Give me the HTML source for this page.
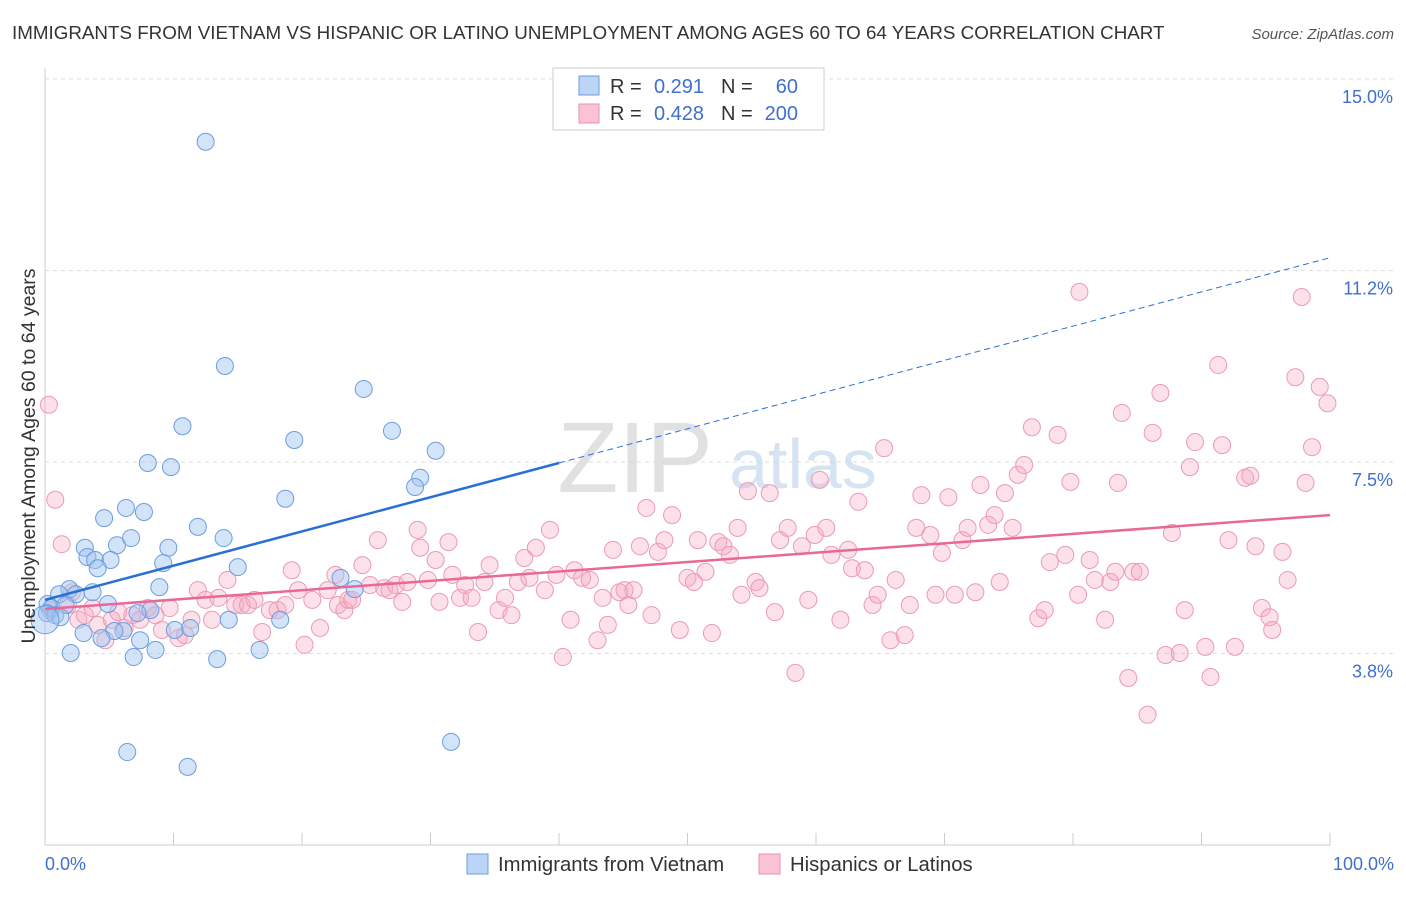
<!DOCTYPE html>
<html><head><meta charset="utf-8"><style>
body{margin:0;background:#fff;font-family:"Liberation Sans",sans-serif}
svg text{font-family:"Liberation Sans",sans-serif}
</style></head><body>
<svg id="chart" width="1406" height="892" xmlns="http://www.w3.org/2000/svg">
<text x="12" y="39" font-size="18.8" fill="#333">IMMIGRANTS FROM VIETNAM VS HISPANIC OR LATINO UNEMPLOYMENT AMONG AGES 60 TO 64 YEARS CORRELATION CHART</text>
<text x="1394" y="39" font-size="15" fill="#555" font-style="italic" text-anchor="end">Source: ZipAtlas.com</text>
<g id="grid"></g>
<g><text x="635" y="492" font-size="100" fill="#d8d8d8" font-family="Liberation Serif" text-anchor="middle" opacity="0.75">ZIP</text><text x="803" y="488" font-size="70" fill="#c9daf0" text-anchor="middle" opacity="0.75">atlas</text></g>
<line x1="45" y1="68" x2="45" y2="845" stroke="#ccc"/>
<line x1="45" y1="845" x2="1330" y2="845" stroke="#ccc"/>
<g id="ticks"></g>
<g id="pink"></g>
<g id="blue"></g>
<g id="trends"></g>
<text transform="translate(35,456) rotate(-90)" font-size="19.5" fill="#333" text-anchor="middle">Unemployment Among Ages 60 to 64 years</text>
<text x="45" y="870" font-size="18" fill="#3f6fd0">0.0%</text>
<text x="1394" y="870" font-size="18" fill="#3f6fd0" text-anchor="end">100.0%</text>
<g>
<rect x="553" y="68" width="271" height="62" fill="#fff" stroke="#ccc"/>
<rect x="579" y="76" width="20" height="19" fill="#bcd4f5" stroke="#6a9de0"/>
<rect x="579" y="104" width="20" height="19" fill="#fac3d4" stroke="#e891ad"/>
<text x="610" y="93" font-size="20" fill="#333">R =</text>
<text x="704" y="93" font-size="20" fill="#3f6fd0" text-anchor="end">0.291</text>
<text x="721" y="93" font-size="20" fill="#333">N =</text>
<text x="798" y="93" font-size="20" fill="#3f6fd0" text-anchor="end">60</text>
<text x="610" y="120" font-size="20" fill="#333">R =</text>
<text x="704" y="120" font-size="20" fill="#3f6fd0" text-anchor="end">0.428</text>
<text x="721" y="120" font-size="20" fill="#333">N =</text>
<text x="798" y="120" font-size="20" fill="#3f6fd0" text-anchor="end">200</text>
</g>
<g>
<rect x="467" y="854" width="21" height="20" fill="#bcd4f5" stroke="#6a9de0"/>
<text x="498" y="871" font-size="20.3" fill="#333">Immigrants from Vietnam</text>
<rect x="759" y="854" width="21" height="20" fill="#fac3d4" stroke="#e891ad"/>
<text x="790" y="871" font-size="20.3" fill="#333">Hispanics or Latinos</text>
</g>
</svg>
<script>
const yTicks=[15.0,11.25,7.5,3.75];
const yTickLabels=["15.0%","11.2%","7.5%","3.8%"];
const blueX=[12.5,14.0,10.7,8.0,9.8,24.8,27.0,19.4,30.4,29.2,28.8,18.7,6.3,7.7,4.6,11.9,5.6,6.7,13.9,3.1,9.6,3.3,3.9,5.1,9.2,4.1,15.0,8.9,23.0,24.1,1.9,3.7,1.1,2.4,0.2,0.5,1.6,4.9,8.2,7.2,0.15,0.8,1.2,18.3,14.3,10.1,11.3,3.0,6.1,5.4,4.4,7.4,2.0,8.6,6.9,13.4,16.7,6.4,11.1,31.6];
const blueY=[13.77,9.38,8.2,7.48,7.4,8.93,8.11,7.93,7.72,7.19,7.01,6.78,6.6,6.52,6.4,6.23,5.87,6.01,6.01,5.82,5.82,5.64,5.58,5.58,5.52,5.42,5.44,5.05,5.23,5.01,5.01,4.95,4.91,4.91,4.72,4.64,4.70,4.72,4.60,4.54,4.54,4.50,4.46,4.41,4.41,4.21,4.25,4.15,4.19,4.19,4.05,4.01,3.76,3.82,3.68,3.64,3.82,1.82,1.53,2.02];
const pinkX=[0.3,0.8,1.3,0.4,1.8,2.1,2.6,3.1,3.7,4.1,4.7,5.2,5.7,6.2,6.8,7.4,8.0,8.6,9.1,9.7,10.4,10.9,11.4,11.9,12.5,13.0,13.5,14.2,14.8,15.3,15.8,16.3,16.9,17.5,18.1,18.7,19.2,19.7,20.2,20.8,21.4,22.0,22.6,22.8,23.3,23.6,23.9,24.7,25.3,25.9,26.4,26.8,27.3,27.8,28.2,29.0,29.2,29.8,30.4,30.7,31.4,31.7,32.3,32.7,33.2,33.7,34.2,34.6,35.3,35.8,36.3,36.8,37.3,37.7,38.2,38.9,39.3,39.8,40.3,40.9,41.2,41.8,42.4,43.0,43.4,43.8,44.2,44.7,45.1,45.4,45.8,46.3,46.8,47.2,47.7,48.2,48.8,49.4,50.0,50.5,50.8,51.4,51.9,52.4,52.8,53.3,53.9,54.2,54.7,55.3,55.6,56.4,56.8,57.2,57.8,58.4,58.9,59.4,59.9,60.3,60.8,61.2,61.9,62.5,62.8,63.3,63.8,64.4,64.8,65.3,65.8,66.2,66.9,67.3,67.8,68.2,68.9,69.3,69.8,70.3,70.8,71.4,71.8,72.4,72.8,73.4,73.9,74.3,74.7,75.3,75.7,76.2,76.8,77.3,77.8,78.2,78.8,79.4,79.8,80.4,80.5,81.3,81.7,82.5,82.9,83.3,83.5,83.8,84.3,84.7,85.2,85.8,86.2,86.8,87.2,87.7,88.3,88.7,89.1,89.5,90.3,90.7,91.3,91.6,92.1,92.6,93.4,93.8,94.2,94.7,95.3,95.5,96.3,96.7,97.3,97.8,98.1,98.6,99.2,99.8];
const pinkY=[8.62,6.76,5.89,4.60,4.70,4.95,4.41,4.50,4.64,4.31,4.01,4.41,4.56,4.25,4.50,4.41,4.64,4.50,4.21,4.64,4.05,4.11,4.41,4.99,4.80,4.41,4.84,5.19,4.70,4.70,4.70,4.80,4.17,4.60,4.60,4.70,5.38,4.99,3.92,4.80,4.25,4.99,5.29,4.70,4.60,4.80,4.80,5.48,5.09,5.97,5.03,4.99,5.09,4.76,5.15,6.17,5.82,5.19,5.58,4.76,5.93,5.29,4.84,5.09,4.84,4.17,5.15,5.48,4.60,4.84,4.50,5.15,5.62,5.23,5.82,4.99,6.17,5.29,3.68,4.41,5.38,5.23,5.19,4.01,4.84,4.31,5.78,4.95,4.99,4.70,4.99,5.85,6.60,4.50,5.74,5.97,6.46,4.21,5.23,5.15,5.97,5.35,4.15,5.93,5.85,5.68,6.21,4.90,6.93,5.15,5.03,6.89,4.56,5.97,6.21,3.37,5.85,4.80,6.07,7.15,6.21,5.68,4.41,5.78,5.42,6.72,5.38,4.70,4.90,7.77,4.01,5.19,4.11,4.70,6.21,6.85,6.07,4.90,5.72,6.81,4.90,5.97,6.21,4.95,7.05,6.27,6.46,5.15,6.89,6.21,7.25,7.44,8.18,4.44,4.60,5.54,8.03,5.68,7.11,4.90,10.83,5.58,5.19,4.41,5.15,5.35,7.09,8.46,3.27,5.35,5.35,2.55,8.07,8.85,3.72,6.11,3.76,4.60,7.40,7.89,3.88,3.29,9.40,7.83,5.97,3.88,7.19,7.23,5.85,4.64,4.46,4.21,5.74,5.19,9.16,10.73,7.09,7.79,8.97,8.65];
const blueTrend=[4.80,11.50];
const pinkTrend=[4.62,6.46];
const NS="http://www.w3.org/2000/svg";
const xs=v=>45+v*12.85;
const ys=v=>845-v*51.07;
function mk(tag,attrs,parent){const e=document.createElementNS(NS,tag);for(const k in attrs)e.setAttribute(k,attrs[k]);parent.appendChild(e);return e;}
const grid=document.getElementById('grid');
yTicks.forEach((t,i)=>{
  const l=mk('line',{x1:45,x2:1395,y1:ys(t),y2:ys(t),stroke:'#ddd','stroke-dasharray':'4,4'},grid);
  
  
  const tx=mk('text',{x:1393,y:ys(t)+24,'font-size':18,fill:'#3f6fd0','text-anchor':'end'},grid);
  tx.textContent=yTickLabels[i];
  
  
});
const ticks=document.getElementById('ticks');
for(let i=0;i<=10;i++){
  const l=mk('line',{x1:xs(i*10),x2:xs(i*10),y1:833,y2:845,stroke:'#ccc'},ticks);
  
  
}
const pg=document.getElementById('pink');
pinkX.forEach((x,i)=>{
  const c=mk('circle',{cx:xs(x),cy:ys(pinkY[i]),r:8.5,fill:'rgba(245,170,195,0.35)',stroke:'#eb9ab5','stroke-width':1},pg);
  
  
});
const bg=document.getElementById('blue');
blueX.forEach((x,i)=>{
  const c=mk('circle',{cx:xs(x),cy:ys(blueY[i]),r:8.5,fill:'rgba(160,195,240,0.45)',stroke:'#6a9de0','stroke-width':1},bg);
  
  
});
const big=mk('circle',{cx:xs(0),cy:ys(4.41),r:14,fill:'rgba(160,195,240,0.45)',stroke:'#6a9de0'},bg);


const tg=document.getElementById('trends');
const bAt=x=>blueTrend[0]+(blueTrend[1]-blueTrend[0])*x/100;
const t1=mk('line',{x1:xs(0),y1:ys(bAt(0)),x2:xs(40),y2:ys(bAt(40)),stroke:'#2a6fd6','stroke-width':2.5},tg);


const t2=mk('line',{x1:xs(40),y1:ys(bAt(40)),x2:xs(100),y2:ys(bAt(100)),stroke:'#2a6fd6','stroke-width':1,'stroke-dasharray':'6,4'},tg);


const t3=mk('line',{x1:xs(0),y1:ys(pinkTrend[0]),x2:xs(100),y2:ys(pinkTrend[1]),stroke:'#e8689a','stroke-width':2.5},tg);


</script>
</body></html>
